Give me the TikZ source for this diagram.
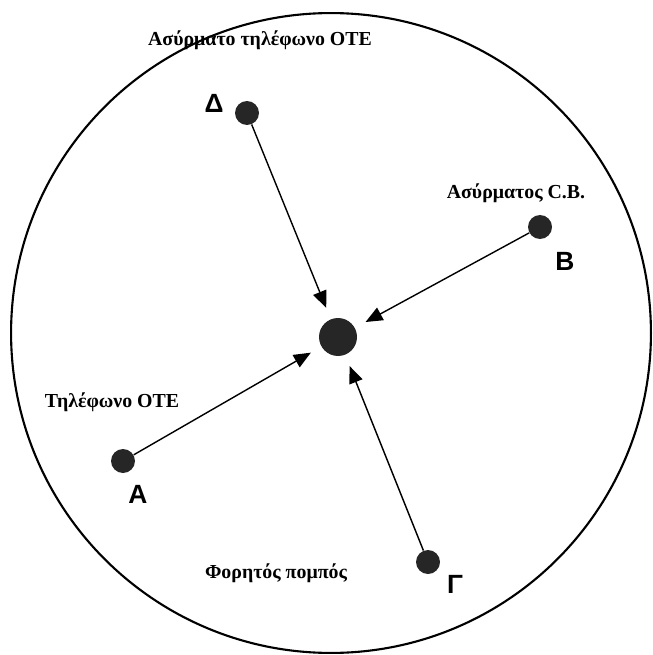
\documentclass[tikz,border=0pt]{standalone}
\usepackage{fontspec}
\setmainfont{Liberation Serif}
\newfontfamily\letterfont{Liberation Sans}
\usetikzlibrary{arrows.meta}
\tikzset{
    % small black dots for the four sources
    srcdot/.style={circle, fill=black!85, inner sep=0pt, minimum size=0.48cm},
    hubdot/.style={circle, fill=black!85, inner sep=0pt, minimum size=0.76cm},
    sigarrow/.style={
        line width=0.8pt,
        black,
        -{Triangle[length=0.34cm, width=0.28cm]},
        shorten >=0.24cm
    },
    namelabel/.style={font=\bfseries\fontsize{11.3}{13}\selectfont},
    letterlabel/.style={font=\letterfont\bfseries\fontsize{15}{17}\selectfont}
}

\begin{document}
\begin{tikzpicture}[x=0.02cm,y=-0.02cm]
    \useasboundingbox (0,0) rectangle (652,655);
    % ===================== outer circle =====================
    \coordinate (o) at (331,333);
    \draw[line width=1.2pt] (o) circle (6.4cm);

    \node[hubdot] (hub) at (338,337) {};
    \node[srcdot] (sD) at (247,113) {};
    \node[srcdot] (sB) at (540,227) {};
    \node[srcdot] (sA) at (123,461) {};
    \node[srcdot] (sG) at (428,562) {};

    \draw[sigarrow] (sD) -- (hub);
    \draw[sigarrow] (sB) -- (hub);
    \draw[sigarrow] (sA) -- (hub);
    \draw[sigarrow] (sG) -- (hub);

    %labels
    \node[letterlabel] (lD) at (214,103) {Δ};
    \node[letterlabel] (lB) at (565,261) {B};
    \node[letterlabel] (lA) at (138,494) {A};
    \node[letterlabel] (lG) at (455,584) {Γ};
    \node[namelabel] (nD) at (260,40) {Ασύρματο τηλέφωνο OTE};
    \node[namelabel] (nB) at (516,193) {Ασύρματος C.B.};
    \node[namelabel] (nA) at (112,402) {Τηλέφωνο OTE};
    \node[namelabel] (nG) at (276,573) {Φορητός πομπός};
\end{tikzpicture}
\end{document}
